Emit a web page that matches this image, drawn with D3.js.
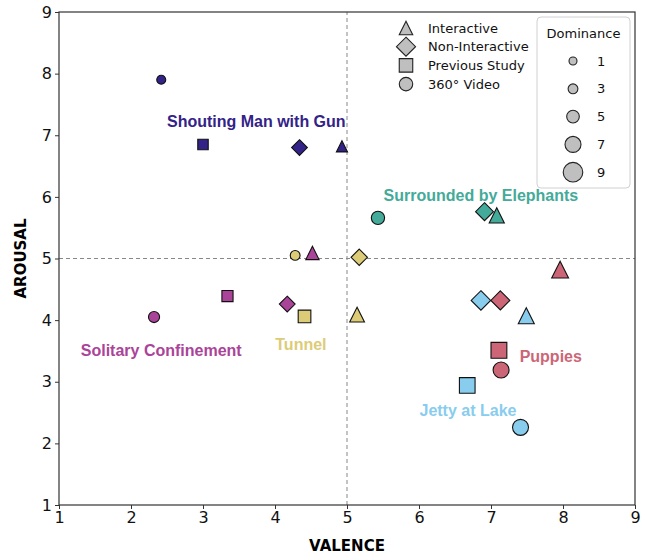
<!DOCTYPE html>
<meta charset="utf-8">
<html lang="en">
<head>
<script src="https://d3js.org/d3.v7.min.js"></script>
<style>
  body { margin: 0; background: #fff; }
  svg text { font-family: "DejaVu Sans", sans-serif; }
  .scene-label { font-family: "Liberation Sans", Arial, sans-serif !important; font-weight: bold; font-size: 16px; }
</style>
</head>
<body>
<svg></svg>
<script>
// scenes, in the order used by every array below
const scenes = ["Shouting Man with Gun", "Surrounded by Elephants", "Tunnel",
                "Solitary Confinement", "Jetty at Lake", "Puppies"];
const sceneColors = ["#332288", "#44AA99", "#DDCC77", "#AA4499", "#88CCEE", "#CC6677"];

const conditions = ["Interactive", "Non-Interactive", "Previous Study", "360° Video"];

// Interactive (triangle)
const interValence   = [4.93, 7.08, 5.14, 4.52, 7.49, 7.96];
const interArousal   = [6.82, 5.70, 4.09, 5.09, 4.07, 4.82];
const interDominance = [4.0, 6.5, 6.3, 5.4, 7.0, 7.5];
// Non-Interactive (diamond)
const nonValence   = [4.34, 6.91, 5.17, 4.17, 6.86, 7.13];
const nonArousal   = [6.80, 5.76, 5.02, 4.26, 4.32, 4.32];
const nonDominance = [4.0, 5.0, 4.3, 4.0, 5.7, 5.5];
// Previous Study (square) - none for elephants
const prevValence   = [3.00, null, 4.41, 3.34, 6.67, 7.11];
const prevArousal   = [6.85, null, 4.06, 4.39, 2.94, 3.51];
const prevDominance = [3.5, null, 5.0, 4.0, 6.8, 6.9];
// 360° Video (circle)
const vidValence   = [2.42, 5.43, 4.28, 2.32, 7.41, 7.14];
const vidArousal   = [7.90, 5.66, 5.05, 4.05, 2.26, 3.19];
const vidDominance = [2.3, 5.4, 3.0, 4.0, 7.0, 7.0];

// scene name label anchors (valence, arousal)
const labelValence = [3.74, 6.86, 4.36, 2.42, 6.68, 7.83];
const labelArousal = [7.22, 6.02, 3.61, 3.51, 2.54, 3.41];

const axisTicks = [1, 2, 3, 4, 5, 6, 7, 8, 9];
const dominanceLegend = [1, 3, 5, 7, 9];

const width = 649, height = 557;
const margin = {left: 59, right: 14, top: 12, bottom: 52};

const svg = d3.select("svg").attr("width", width).attr("height", height);

const x = d3.scaleLinear().domain([1, 9]).range([margin.left, width - margin.right]);
const y = d3.scaleLinear().domain([1, 9]).range([height - margin.bottom, margin.top]);
// marker bounding size (px^2) from dominance, like matplotlib's s
const sizeScale = d3.scaleLinear().domain([0, 81]).range([60, 384]);
const markerArea = d => sizeScale(d * d);

// matplotlib-like marker shapes
const mplTriangle = { draw(ctx, size) { const s = Math.sqrt(size) / 2;
  ctx.moveTo(0, -s); ctx.lineTo(-s, s); ctx.lineTo(s, s); ctx.closePath(); } };
const mplDiamond = { draw(ctx, size) { const s = Math.sqrt(size) / 2 * Math.SQRT2;
  ctx.moveTo(0, -s); ctx.lineTo(s, 0); ctx.lineTo(0, s); ctx.lineTo(-s, 0); ctx.closePath(); } };
const mplSquare = { draw(ctx, size) { const s = Math.sqrt(size) / 2;
  ctx.moveTo(-s, -s); ctx.lineTo(s, -s); ctx.lineTo(s, s); ctx.lineTo(-s, s); ctx.closePath(); } };
const mplCircle = { draw(ctx, size) { const r = Math.sqrt(size) / 2;
  ctx.moveTo(r, 0); ctx.arc(0, 0, r, 0, 2 * Math.PI); } };
const shapes = [mplTriangle, mplDiamond, mplSquare, mplCircle];

// build points; draw order: circles, squares, diamonds, triangles
const series = [
  [interValence, interArousal, interDominance],
  [nonValence, nonArousal, nonDominance],
  [prevValence, prevArousal, prevDominance],
  [vidValence, vidArousal, vidDominance]
];
let points = [];
[3, 2, 1, 0].forEach(c => {
  scenes.forEach((s, i) => {
    if (series[c][0][i] == null) return;
    points.push({scene: i, cond: c, v: series[c][0][i], a: series[c][1][i], d: series[c][2][i]});
  });
});

// quadrant lines
svg.append("line").attr("x1", x(5)).attr("x2", x(5)).attr("y1", y(1)).attr("y2", y(9))
  .attr("stroke", "#888").attr("stroke-width", 1).attr("stroke-dasharray", "4,3");
svg.append("line").attr("x1", x(1)).attr("x2", x(9)).attr("y1", y(5)).attr("y2", y(5))
  .attr("stroke", "#888").attr("stroke-width", 1).attr("stroke-dasharray", "4,3");

// axes
const xAxis = svg.append("g").attr("transform", "translate(0," + y(1) + ")")
  .call(d3.axisBottom(x).tickValues(axisTicks).tickFormat(d3.format("d")).tickSize(4).tickPadding(3));
const yAxis = svg.append("g").attr("transform", "translate(" + x(1) + ",0)")
  .call(d3.axisLeft(y).tickValues(axisTicks).tickFormat(d3.format("d")).tickSize(4).tickPadding(3));
[xAxis, yAxis].forEach(g => {
  g.select(".domain").remove();
  g.selectAll("line").attr("stroke", "#333");
  g.selectAll("text").attr("font-size", 16).attr("fill", "#111").style("font-family", "DejaVu Sans");
});
svg.append("rect").attr("x", x(1)).attr("y", y(9)).attr("width", x(9) - x(1)).attr("height", y(1) - y(9))
  .attr("fill", "none").attr("stroke", "#333").attr("stroke-width", 1.2);

svg.append("text").attr("x", (x(1) + x(9)) / 2).attr("y", 551)
  .attr("text-anchor", "middle").attr("font-size", 15).attr("font-weight", "bold").text("VALENCE");
svg.append("text").attr("transform", "translate(26," + y(5) + ") rotate(-90)")
  .attr("text-anchor", "middle").attr("font-size", 15).attr("font-weight", "bold").text("AROUSAL");

// points
svg.append("g").selectAll("path").data(points).enter().append("path")
  .attr("transform", d => "translate(" + x(d.v) + "," + y(d.a) + ")")
  .attr("d", d => d3.symbol().type(shapes[d.cond]).size(markerArea(d.d))())
  .attr("fill", d => sceneColors[d.scene])
  .attr("stroke", "#111").attr("stroke-width", 1.1);

// scene labels
svg.append("g").selectAll("text").data(scenes).enter().append("text")
  .attr("class", "scene-label")
  .attr("x", (d, i) => x(labelValence[i]))
  .attr("y", (d, i) => y(labelArousal[i]))
  .attr("text-anchor", "middle").attr("dy", "0.35em")
  .attr("fill", (d, i) => sceneColors[i])
  .text(d => d);

// condition legend
const condLegend = svg.append("g").attr("transform", "translate(406,28)");
conditions.forEach((c, i) => {
  condLegend.append("path").attr("transform", "translate(0," + (i * 18.7) + ")")
    .attr("d", d3.symbol().type(shapes[i]).size(182)())
    .attr("fill", "#bfbfbf").attr("stroke", "#222").attr("stroke-width", 1.1);
  condLegend.append("text").attr("x", 22).attr("y", i * 18.7).attr("dy", "0.35em")
    .attr("font-size", 13).attr("fill", "#111").text(c);
});

// dominance legend
const domLegend = svg.append("g").attr("transform", "translate(537,17)");
domLegend.append("rect").attr("width", 93).attr("height", 171).attr("rx", 4)
  .attr("fill", "#fff").attr("fill-opacity", 0.8).attr("stroke", "#d0d0d0");
domLegend.append("text").attr("x", 46.5).attr("y", 16).attr("dy", "0.35em")
  .attr("text-anchor", "middle").attr("font-size", 13).attr("fill", "#111").text("Dominance");
dominanceLegend.forEach((d, i) => {
  domLegend.append("path").attr("transform", "translate(36," + (44 + i * 27.8) + ")")
    .attr("d", d3.symbol().type(mplCircle).size(markerArea(d))())
    .attr("fill", "#bfbfbf").attr("stroke", "#222").attr("stroke-width", 1.1);
  domLegend.append("text").attr("x", 60).attr("y", 44 + i * 27.8).attr("dy", "0.35em")
    .attr("font-size", 13).attr("fill", "#111").text(d);
});
</script>
</body>
</html>
